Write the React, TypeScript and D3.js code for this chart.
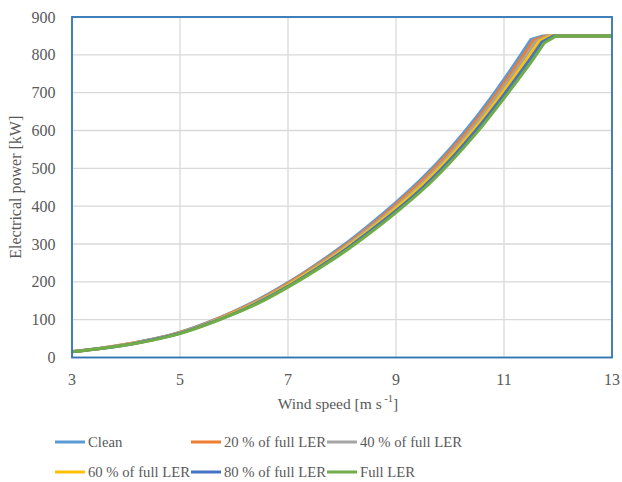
import React from "react";
import * as d3 from "d3";

const seriesNames = ["Clean", "20 % of full LER", "40 % of full LER", "60 % of full LER", "80 % of full LER", "Full LER"];
const seriesColors = ["#5B9BD5", "#ED7D31", "#A5A5A5", "#FFC000", "#4472C4", "#70AD47"];

const baseWind = [3, 3.5, 4, 4.5, 5, 5.5, 6, 6.5, 7, 7.5, 8, 8.5, 9, 9.5, 10, 10.5, 11, 11.5];

const cleanPower = [16, 24, 35, 49, 67, 92, 122, 157, 198, 244, 294, 350, 410, 476, 552, 638, 735, 841];
const ler20Power = [16, 24, 35, 48, 66, 91, 121, 155, 196, 241, 290, 345, 405, 470, 545, 629, 725, 829];
const ler40Power = [16, 24, 34, 48, 65, 90, 119, 153, 193, 238, 286, 341, 399, 463, 537, 621, 715, 817];
const ler60Power = [15, 23, 34, 47, 65, 89, 118, 151, 191, 235, 283, 336, 394, 457, 530, 612, 705, 804];
const ler80Power = [15, 23, 33, 47, 64, 88, 116, 149, 188, 232, 279, 332, 388, 450, 522, 604, 695, 792];
const fullPower = [15, 23, 33, 46, 63, 87, 115, 147, 186, 229, 275, 327, 383, 444, 515, 595, 685, 780];

// tail points beyond 11.5 m/s (wind speed, power)
const cleanTailWind = [11.72, 12, 13];
const cleanTailPower = [850, 850, 850];
const ler20TailWind = [11.55, 11.77, 12, 13];
const ler20TailPower = [839, 850, 850, 850];
const ler40TailWind = [11.6, 11.82, 12, 13];
const ler40TailPower = [837, 850, 850, 850];
const ler60TailWind = [11.65, 11.87, 12, 13];
const ler60TailPower = [836, 850, 850, 850];
const ler80TailWind = [11.7, 11.92, 12, 13];
const ler80TailPower = [834, 850, 850, 850];
const fullTailWind = [11.75, 11.97, 13];
const fullTailPower = [832, 850, 850];

const xTicks = [3, 5, 7, 9, 11, 13];
const yTicks = [0, 100, 200, 300, 400, 500, 600, 700, 800, 900];

const seriesPower = [cleanPower, ler20Power, ler40Power, ler60Power, ler80Power, fullPower];
const seriesTailWind = [cleanTailWind, ler20TailWind, ler40TailWind, ler60TailWind, ler80TailWind, fullTailWind];
const seriesTailPower = [cleanTailPower, ler20TailPower, ler40TailPower, ler60TailPower, ler80TailPower, fullTailPower];

const W = 622;
const H = 482;
const left = 72;
const right = 612;
const top = 17;
const bottom = 357.5;
const FONT = "Liberation Serif";
const TXT = "#595959";

export default function App() {
  const x = d3.scaleLinear().domain([3, 13]).range([left, right]);
  const y = d3.scaleLinear().domain([0, 900]).range([bottom, top]);
  const smooth = d3
    .line<[number, number]>()
    .x((d) => x(d[0]))
    .y((d) => y(d[1]))
    .curve(d3.curveMonotoneX);
  const straight = d3
    .line<[number, number]>()
    .x((d) => x(d[0]))
    .y((d) => y(d[1]));

  const paths = seriesPower.map((vals, i) => {
    const base: [number, number][] = baseWind.map((w, j) => [w, vals[j]]);
    const tail: [number, number][] = [base[base.length - 1]];
    seriesTailWind[i].forEach((w, j) => tail.push([w, seriesTailPower[i][j]]));
    const tailPath = (straight(tail) || "").replace(/^M/, "L");
    return (smooth(base) || "") + tailPath;
  });

  const legendCols = [55, 191, 327];
  const legendRows = [442, 472];

  return (
    <svg width={W} height={H} style={{ position: "absolute", left: 0, top: 0, background: "#fff" }}>
      <rect x={0} y={0} width={W} height={H} fill="#fff" />
      {yTicks.map((t) => (
        <line key={"gy" + t} x1={left} x2={right} y1={y(t)} y2={y(t)} stroke="#D9D9D9" strokeWidth={1.3} />
      ))}
      {xTicks.map((t) => (
        <line key={"gx" + t} x1={x(t)} x2={x(t)} y1={top} y2={bottom} stroke="#D9D9D9" strokeWidth={1.3} />
      ))}
      {paths.map((d, i) => (
        <path key={"s" + i} d={d} fill="none" stroke={seriesColors[i]} strokeWidth={3} strokeLinejoin="round" />
      ))}
      <rect x={left} y={top} width={right - left} height={bottom - top} fill="none" stroke="#2E75B6" strokeWidth={1.8} />
      {yTicks.map((t) => (
        <text key={"ty" + t} fontFamily={FONT} x={55.5} y={y(t)} dy="0.35em" textAnchor="end" fontSize={16} fill={TXT}>
          {t}
        </text>
      ))}
      {xTicks.map((t) => (
        <text key={"tx" + t} fontFamily={FONT} x={x(t)} y={385} textAnchor="middle" fontSize={16} fill={TXT}>
          {t}
        </text>
      ))}
      <text fontFamily={FONT} x={338} y={409} textAnchor="middle" fontSize={15.5} fill={TXT}>
        Wind speed [m s
        <tspan fontSize={10.5} dy={-7}>
          {" -1"}
        </tspan>
        <tspan dy={7}>]</tspan>
      </text>
      <text
        fontFamily={FONT}
        transform={`translate(21,${(top + bottom) / 2}) rotate(-90)`}
        textAnchor="middle"
        fontSize={16}
        fill={TXT}
      >
        Electrical power [kW]
      </text>
      {seriesNames.map((name, i) => {
        const cx = legendCols[i % 3];
        const cy = legendRows[Math.floor(i / 3)];
        return (
          <g key={"lg" + i}>
            <line x1={cx} x2={cx + 30} y1={cy} y2={cy} stroke={seriesColors[i]} strokeWidth={3} />
            <text fontFamily={FONT} x={cx + 33} y={cy} dy="0.35em" fontSize={14.7} fill={TXT}>
              {name}
            </text>
          </g>
        );
      })}
    </svg>
  );
}
